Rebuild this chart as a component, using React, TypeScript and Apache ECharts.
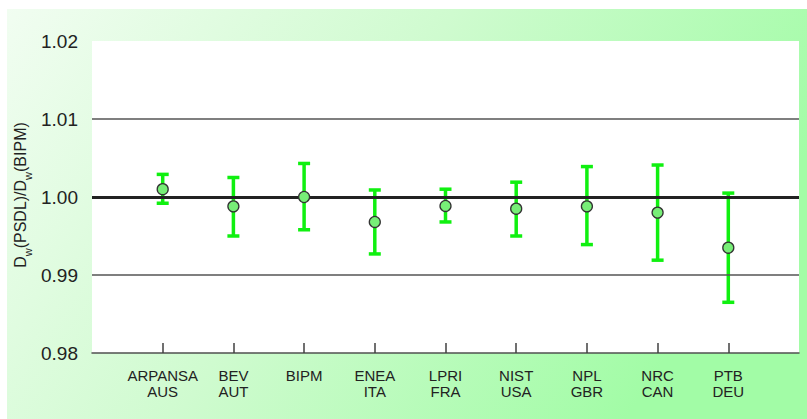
import React, { useEffect, useRef } from 'react';
import * as echarts from 'echarts';

const labs = ['ARPANSA\nAUS', 'BEV\nAUT', 'BIPM', 'ENEA\nITA', 'LPRI\nFRA', 'NIST\nUSA', 'NPL\nGBR', 'NRC\nCAN', 'PTB\nDEU'];
const categories = ['', ...labs, ''];
const ratio = [1.001, 0.9988, 1.0, 0.9968, 0.99885, 0.9985, 0.9988, 0.998, 0.9935];
const upper = [1.0029, 1.0025, 1.0043, 1.0009, 1.001, 1.0019, 1.0039, 1.0041, 1.0005];
const lower = [0.9992, 0.995, 0.9958, 0.9927, 0.9968, 0.995, 0.9939, 0.9919, 0.9865];
const gridValues = [0.99, 1.0, 1.01];
const refValue = 1.0;

const FONT = '"Liberation Sans", Arial, Helvetica, sans-serif';
const GREEN = '#10f010';

export default function App() {
  const ref = useRef<HTMLDivElement>(null);
  useEffect(() => {
    if (!ref.current) return;
    const chart = echarts.init(ref.current, null, { renderer: 'svg' });
    const option: any = {
      animation: false,
      textStyle: { fontFamily: FONT },
      graphic: [
        {
          type: 'rect',
          z: -100,
          silent: true,
          shape: { x: 7, y: 9, width: 800, height: 410 },
          style: {
            fill: new echarts.graphic.LinearGradient(0, 0, 1, 0.35, [
              { offset: 0, color: '#f1fdf1' },
              { offset: 0.5, color: '#cffbcf' },
              { offset: 1, color: '#a2fca6' },
            ]),
          },
        },
        {
          type: 'text',
          x: 20.5,
          y: 195,
          rotation: Math.PI / 2,
          style: {
            text: '{n|D}{s|w}{n|(PSDL)/D}{s|w}{n|(BIPM)}',
            align: 'center',
            verticalAlign: 'middle',
            fill: '#222',
            fontFamily: FONT,
            rich: {
              n: { fontSize: 16, lineHeight: 26, verticalAlign: 'middle', fill: '#222', fontFamily: FONT },
              s: { fontSize: 11, lineHeight: 11, verticalAlign: 'bottom', fill: '#222', fontFamily: FONT },
            },
          },
        },
      ],
      grid: {
        left: 92,
        right: 8,
        top: 41,
        bottom: 66,
        show: true,
        backgroundColor: '#ffffff',
        borderWidth: 0,
      },
      xAxis: {
        type: 'category',
        data: categories,
        boundaryGap: false,
        axisLine: { show: true, lineStyle: { color: '#505050', width: 1.5 } },
        axisTick: {
          show: true,
          inside: true,
          length: 10,
          interval: (i: number, v: string) => v !== '',
          lineStyle: { color: '#404040', width: 1.5 },
        },
        axisLabel: {
          interval: 0,
          fontSize: 15,
          lineHeight: 16,
          color: '#222',
          margin: 14,
          fontFamily: FONT,
        },
        splitLine: { show: false },
      },
      yAxis: {
        type: 'value',
        min: 0.98,
        max: 1.02,
        interval: 0.01,
        axisLine: { show: false },
        axisTick: { show: false },
        axisLabel: {
          fontSize: 19,
          color: '#222',
          margin: 14,
          fontFamily: FONT,
          formatter: (v: number) => v.toFixed(2),
        },
        splitLine: { show: false },
      },
      series: [
        {
          type: 'line',
          data: [],
          z: 1,
          silent: true,
          markLine: {
            symbol: 'none',
            silent: true,
            label: { show: false },
            data: gridValues.map((v) => ({
              yAxis: v,
              lineStyle: {
                type: 'solid',
                color: v === refValue ? '#222' : '#555',
                width: v === refValue ? 3 : 1.5,
              },
            })),
          },
        },
        {
          type: 'custom',
          z: 3,
          data: ratio.map((_, i) => [i + 1, upper[i], lower[i]]),
          renderItem: (params: any, api: any) => {
            const x = api.value(0);
            const hi = api.coord([x, api.value(1)]);
            const lo = api.coord([x, api.value(2)]);
            const hw = 6;
            const style = { stroke: GREEN, lineWidth: 3.5 };
            return {
              type: 'group',
              children: [
                { type: 'line', shape: { x1: hi[0], y1: hi[1], x2: lo[0], y2: lo[1] }, style },
                { type: 'line', shape: { x1: hi[0] - hw, y1: hi[1], x2: hi[0] + hw, y2: hi[1] }, style },
                { type: 'line', shape: { x1: lo[0] - hw, y1: lo[1], x2: lo[0] + hw, y2: lo[1] }, style },
              ],
            };
          },
        },
        {
          type: 'scatter',
          z: 5,
          data: ratio.map((v, i) => [i + 1, v]),
          symbol: 'circle',
          symbolSize: 11,
          itemStyle: { color: '#77ee77', borderColor: '#333', borderWidth: 1.3, opacity: 1 },
        },
      ],
    };
    chart.setOption(option);
    return () => chart.dispose();
  }, []);
  return (
    <div
      ref={ref}
      style={{ position: 'absolute', left: 0, top: 0, width: 807, height: 419 }}
    />
  );
}
